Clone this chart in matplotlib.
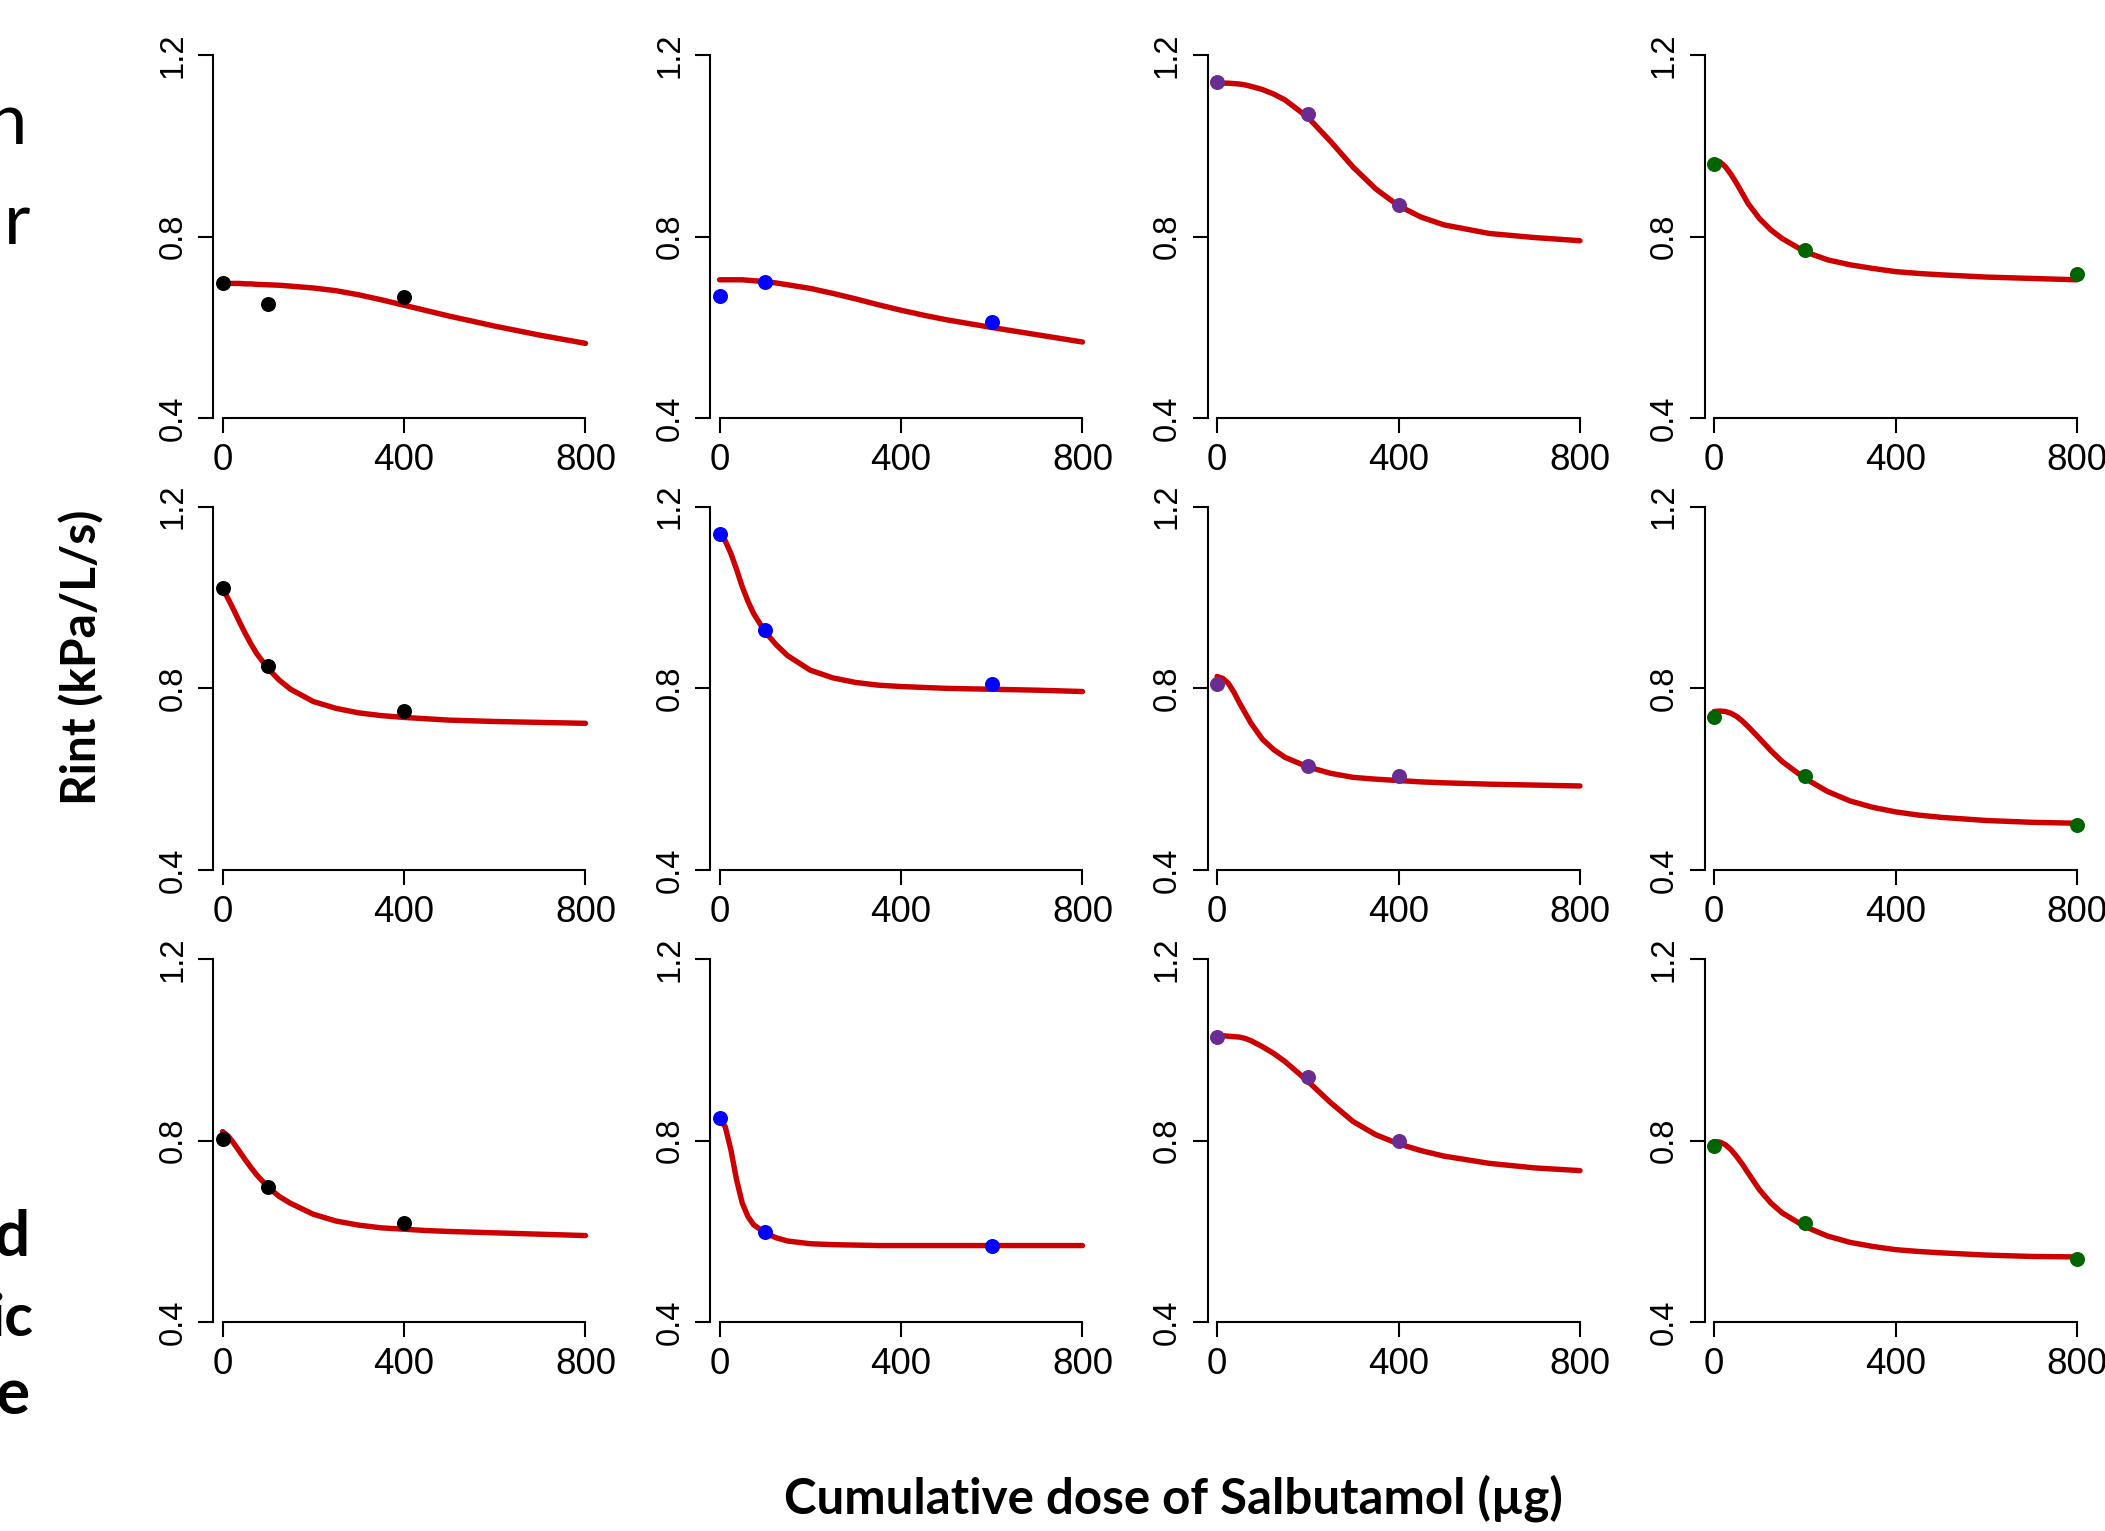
import matplotlib
matplotlib.use("Agg")
import matplotlib.pyplot as plt

W, H, DPI = 2105, 1531, 100

# ---------------- data ----------------
curve_x = [0, 12.5, 25, 37.5, 50, 62.5, 75, 100, 125, 150, 200, 250, 300,
           350, 400, 450, 500, 600, 700, 800]

col_doses = [[0, 100, 400], [0, 100, 600], [0, 200, 400], [0, 200, 800]]
col_colors = ["#000000", "#0000FF", "#6B2C91", "#006400"]

# observed Rint (kPa/L/s), rows x columns
obs_r1c1 = [0.699, 0.652, 0.668]
obs_r1c2 = [0.670, 0.701, 0.611]
obs_r1c3 = [1.140, 1.070, 0.870]
obs_r1c4 = [0.959, 0.771, 0.717]
obs_r2c1 = [1.020, 0.849, 0.750]
obs_r2c2 = [1.139, 0.928, 0.809]
obs_r2c3 = [0.809, 0.628, 0.608]
obs_r2c4 = [0.737, 0.608, 0.499]
obs_r3c1 = [0.803, 0.699, 0.619]
obs_r3c2 = [0.850, 0.599, 0.569]
obs_r3c3 = [1.028, 0.940, 0.800]
obs_r3c4 = [0.789, 0.619, 0.540]

# fitted curves read at curve_x
fit_r1c1 = [0.697, 0.697, 0.697, 0.697, 0.696, 0.696, 0.695, 0.694, 0.693, 0.691,
            0.687, 0.681, 0.672, 0.661, 0.649, 0.637, 0.625, 0.603, 0.583, 0.565]
fit_r1c2 = [0.705, 0.705, 0.705, 0.705, 0.705, 0.704, 0.703, 0.701, 0.698, 0.694,
            0.686, 0.675, 0.663, 0.650, 0.638, 0.627, 0.617, 0.600, 0.584, 0.568]
fit_r1c3 = [1.138, 1.138, 1.138, 1.137, 1.136, 1.134, 1.131, 1.124, 1.114, 1.101,
            1.063, 1.010, 0.953, 0.905, 0.868, 0.843, 0.826, 0.807, 0.798, 0.791]
fit_r1c4 = [0.968, 0.965, 0.954, 0.937, 0.917, 0.895, 0.873, 0.840, 0.815, 0.796,
            0.767, 0.749, 0.738, 0.730, 0.723, 0.719, 0.716, 0.711, 0.708, 0.705]
fit_r2c1 = [1.020, 0.997, 0.972, 0.946, 0.921, 0.898, 0.877, 0.844, 0.818, 0.798,
            0.771, 0.756, 0.746, 0.740, 0.736, 0.733, 0.730, 0.727, 0.725, 0.723]
fit_r2c2 = [1.138, 1.125, 1.097, 1.062, 1.024, 0.992, 0.965, 0.925, 0.896, 0.872,
            0.840, 0.823, 0.813, 0.807, 0.804, 0.802, 0.800, 0.798, 0.796, 0.793]
fit_r2c3 = [0.826, 0.822, 0.811, 0.791, 0.767, 0.745, 0.723, 0.688, 0.665, 0.648,
            0.627, 0.613, 0.604, 0.600, 0.597, 0.594, 0.592, 0.589, 0.587, 0.585]
fit_r2c4 = [0.749, 0.750, 0.749, 0.745, 0.738, 0.728, 0.716, 0.690, 0.663, 0.639,
            0.602, 0.573, 0.552, 0.538, 0.528, 0.521, 0.516, 0.509, 0.505, 0.503]
fit_r3c1 = [0.820, 0.810, 0.794, 0.776, 0.758, 0.741, 0.725, 0.698, 0.677, 0.662,
            0.638, 0.623, 0.614, 0.608, 0.605, 0.602, 0.600, 0.597, 0.594, 0.591]
fit_r3c2 = [0.846, 0.831, 0.780, 0.714, 0.663, 0.633, 0.615, 0.597, 0.586, 0.579,
            0.573, 0.571, 0.570, 0.569, 0.569, 0.569, 0.569, 0.569, 0.569, 0.569]
fit_r3c3 = [1.031, 1.031, 1.030, 1.029, 1.028, 1.025, 1.020, 1.007, 0.992, 0.974,
            0.931, 0.884, 0.842, 0.813, 0.793, 0.778, 0.766, 0.750, 0.740, 0.734]
fit_r3c4 = [0.798, 0.797, 0.791, 0.780, 0.765, 0.748, 0.729, 0.692, 0.663, 0.641,
            0.611, 0.590, 0.576, 0.567, 0.560, 0.556, 0.553, 0.548, 0.545, 0.544]

observed = [[obs_r1c1, obs_r1c2, obs_r1c3, obs_r1c4],
            [obs_r2c1, obs_r2c2, obs_r2c3, obs_r2c4],
            [obs_r3c1, obs_r3c2, obs_r3c3, obs_r3c4]]
fitted = [[fit_r1c1, fit_r1c2, fit_r1c3, fit_r1c4],
          [fit_r2c1, fit_r2c2, fit_r2c3, fit_r2c4],
          [fit_r3c1, fit_r3c2, fit_r3c3, fit_r3c4]]

x_ticks = [0, 400, 800]
x_ticklabels = ["0", "400", "800"]
y_ticks = [0.4, 0.8, 1.2]
y_ticklabels = ["0.4", "0.8", "1.2"]

xlabel = "Cumulative dose of Salbutamol (\u00b5g)"
ylabel = "Rint (kPa/L/s)"

# ---------------- layout ----------------
fig = plt.figure(figsize=(W / DPI, H / DPI), dpi=DPI)
fig.patch.set_facecolor("white")

left_px = [213, 710, 1207.5, 1704.5]
top_px = [55, 506.7, 959]
ax_w_px = 382
ax_h_px = 363.3

tick_font = "Liberation Sans"
title_font = ["Lato", "DejaVu Sans"]

for r in range(3):
    for c in range(4):
        l = left_px[c] / W
        b = 1 - (top_px[r] + ax_h_px) / H
        ax = fig.add_axes([l, b, ax_w_px / W, ax_h_px / H])
        ax.set_xlim(-21, 821)
        ax.set_ylim(0.4, 1.2)
        ax.patch.set_alpha(0)
        for s in ("top", "right"):
            ax.spines[s].set_visible(False)
        ax.spines["left"].set_bounds(0.4, 1.2)
        ax.spines["bottom"].set_bounds(0, 800)
        for s in ("left", "bottom"):
            ax.spines[s].set_linewidth(1.5)
        ax.plot(curve_x, fitted[r][c], color="#CC0000", lw=3.9,
                solid_capstyle="round", solid_joinstyle="round",
                zorder=2, clip_on=False)
        ax.plot(col_doses[c], observed[r][c], "o", color=col_colors[c],
                markersize=10.8, markeredgewidth=0, zorder=3, clip_on=False)
        ax.set_xticks(x_ticks)
        ax.set_xticklabels(x_ticklabels, fontsize=26.5, family=tick_font)
        ax.set_yticks(y_ticks)
        ax.set_yticklabels(y_ticklabels, fontsize=23.5, family=tick_font,
                           rotation=90, va="center")
        ax.tick_params(axis="both", direction="out", length=10.8, width=1.5)
        ax.tick_params(axis="x", pad=7)
        ax.tick_params(axis="y", pad=7)

fig.text(82 / W, 1 - 657 / H, ylabel, rotation=90, ha="center", va="center",
         fontsize=34.5, fontweight="bold", family=title_font)
fig.text(1173 / W, 1 - 1498 / H, xlabel, ha="center", va="center",
         fontsize=35.5, fontweight="bold", family=title_font)

# partially visible row labels at the left edge (cut off in the original)
frag_font = ["Lato", "DejaVu Sans"]
fig.text(27 / W, 1 - 124 / H, "n", ha="right", va="center", fontsize=52,
         family=frag_font)
fig.text(30 / W, 1 - 224 / H, "r", ha="right", va="center", fontsize=52,
         family=frag_font)
fig.text(30 / W, 1 - 1238 / H, "d", ha="right", va="center", fontsize=46,
         fontweight="bold", family=frag_font)
fig.text(33 / W, 1 - 1319 / H, "ic", ha="right", va="center", fontsize=43,
         fontweight="bold", family=frag_font)
fig.text(30 / W, 1 - 1396 / H, "e", ha="right", va="center", fontsize=46,
         fontweight="bold", family=frag_font)

fig.savefig("out.png", dpi=DPI, facecolor="white")
